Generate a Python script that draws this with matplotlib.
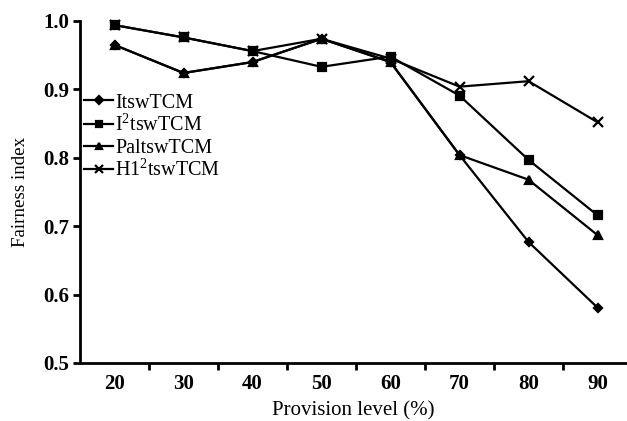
import matplotlib
matplotlib.use("Agg")
import matplotlib.pyplot as plt
import numpy as np

# Data
levels = [20, 30, 40, 50, 60, 70, 80, 90]
itsw = [0.965, 0.924, 0.940, 0.974, 0.940, 0.804, 0.677, 0.581]
i2tsw = [0.994, 0.976, 0.956, 0.933, 0.948, 0.891, 0.797, 0.716]
paltsw = [0.965, 0.924, 0.940, 0.974, 0.940, 0.804, 0.768, 0.687]
h12tsw = [0.994, 0.976, 0.956, 0.974, 0.945, 0.904, 0.912, 0.852]
series_names = ["ItswTCM", "I$^2$tswTCM", "PaltswTCM", "H1$^2$tswTCM"]
yticks = [0.5, 0.6, 0.7, 0.8, 0.9, 1.0]

plt.rcParams["font.family"] = ["Liberation Serif", "DejaVu Serif"]
plt.rcParams["mathtext.fontset"] = "custom"
plt.rcParams["mathtext.rm"] = "Liberation Serif"
plt.rcParams["mathtext.it"] = "Liberation Serif"

W, H = 627, 421
fig = plt.figure(figsize=(W / 100, H / 100), dpi=100)
left, right, top, bottom = 80, 627, 21, 363
ax = fig.add_axes([left / W, 1 - bottom / H, (right - left) / W, (bottom - top) / H])

x = np.arange(len(levels))
styles = [("D", 4.5), ("s", 5.5), ("^", 6), ("x", 6.5)]
for vals, name, (m, ms) in zip([itsw, i2tsw, paltsw, h12tsw], series_names, styles):
    ax.plot(x, vals, color="black", lw=1.6, marker=m, ms=ms, mew=1.6,
            label=name, clip_on=False)

ax.set_xlim(-0.5, -0.5 + (right - left) / 69.0)
ax.set_ylim(0.5, 1.0)
ax.set_yticks(yticks)
ax.set_yticklabels([f"{v:.1f}" for v in yticks], fontweight="bold", fontsize=15)
ax.set_xticks(x)
ax.set_xticklabels([str(v) for v in levels], fontweight="bold", fontsize=15)
ax.tick_params(axis="x", length=0, pad=8)
ax.set_xticks(np.arange(0.5, len(levels) - 1, 1.0), minor=True)
ax.tick_params(axis="x", which="minor", direction="out", length=5, width=2)
ax.tick_params(axis="y", direction="out", length=5, width=2, pad=3)

for s in ("top", "right"):
    ax.spines[s].set_visible(False)
for s in ("left", "bottom"):
    ax.spines[s].set_linewidth(2)

ax.set_xlabel("Provision level (%)", fontsize=15, labelpad=5)
ax.set_ylabel("Fairness index", fontsize=13.7, labelpad=10)

ax.legend(loc="upper left", bbox_to_anchor=(0.0, 0.8), frameon=False,
          fontsize=14.5, handlelength=1.45, handletextpad=0.1,
          labelspacing=0.12, borderpad=0.1, borderaxespad=0.1,
          markerscale=0.8)

fig.savefig("out.png", dpi=100)
